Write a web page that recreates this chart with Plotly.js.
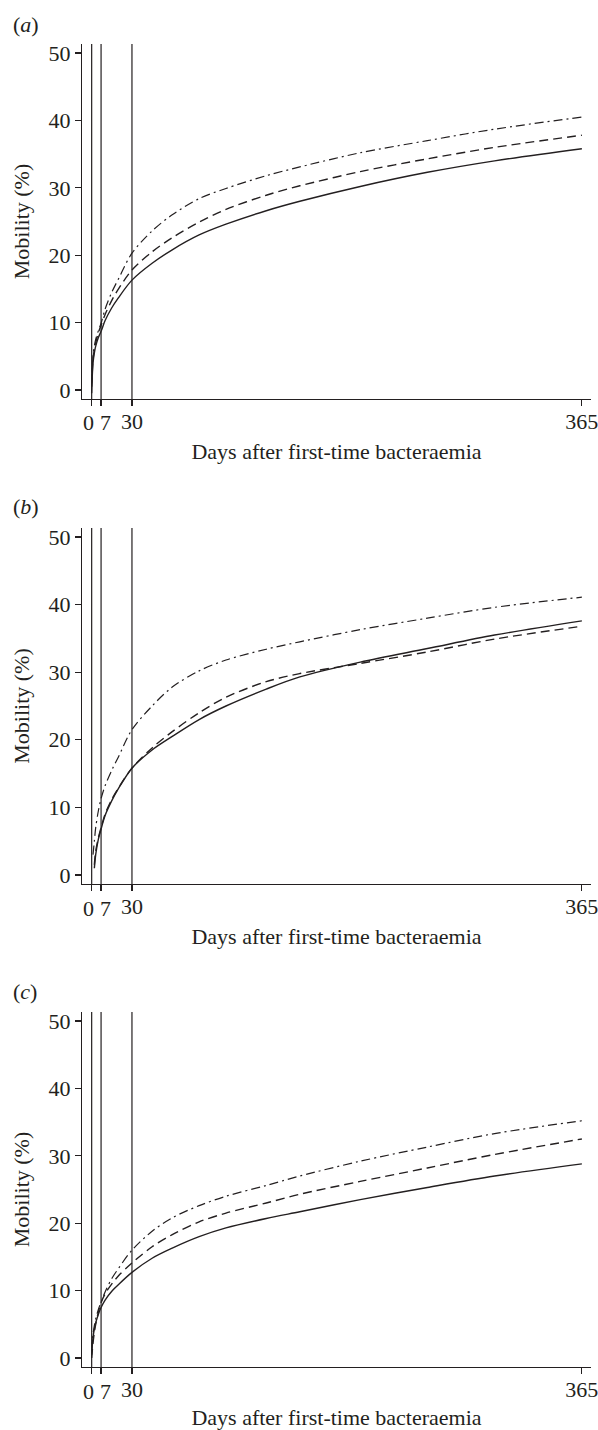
<!DOCTYPE html>
<html>
<head>
<meta charset="utf-8">
<script src="https://cdn.plot.ly/plotly-3.0.1.min.js"></script>
<style>
html, body { margin: 0; padding: 0; background: #fff; }
#chart { width: 598px; height: 1430px; }
</style>
</head>
<body>
<div id="chart"></div>
<script>
// ---- data ----
const panelLabels = ["a", "b", "c"];
const xTickVals = [0, 7, 30, 365];
const xTickText = ["0", "7", "30", "365"];
const yTickVals = [0, 10, 20, 30, 40, 50];
const refLineDays = [0, 7, 30];
const xTitle = "Days after first-time bacteraemia";
const yTitle = "Mobility (%)";

// panel (a)
const daysA = [0, 1, 2, 3, 5, 7, 10, 15, 20, 30, 45, 60, 80, 100, 130, 155, 200, 250, 300, 365];
const aSolid   = [-0.5, 4.0, 5.5, 6.5, 7.8, 8.7, 10.3, 12.2, 13.7, 16.3, 18.8, 20.8, 23.0, 24.6, 26.6, 28.0, 30.2, 32.3, 34.0, 35.8];
const aDashed  = [0.5, 4.5, 6.0, 7.0, 8.5, 9.6, 11.2, 13.3, 15.0, 17.8, 20.5, 22.6, 24.9, 26.8, 28.9, 30.3, 32.4, 34.3, 36.0, 37.8];
const aDashDot = [1.0, 5.0, 6.5, 7.5, 8.8, 9.9, 12.0, 14.5, 16.5, 20.3, 23.6, 26.0, 28.4, 29.9, 31.8, 33.1, 35.2, 37.0, 38.7, 40.5];

// panel (b)
const daysB = [2, 3, 5, 7, 10, 15, 20, 30, 45, 60, 80, 100, 130, 155, 200, 250, 300, 365];
const bSolid   = [1.0, 3.0, 5.3, 6.8, 8.8, 11.0, 12.8, 15.8, 18.5, 20.5, 23.0, 25.0, 27.5, 29.3, 31.5, 33.5, 35.5, 37.6];
const bDashed  = [1.5, 3.5, 5.5, 7.0, 9.0, 11.2, 12.9, 15.8, 18.8, 21.2, 24.0, 26.3, 28.6, 29.8, 31.3, 33.0, 34.9, 36.8];
const daysB2 = [1, 2, 3, 5, 7, 10, 15, 20, 30, 45, 60, 80, 100, 130, 155, 200, 250, 300, 365];
const bDashDot = [3.0, 5.0, 7.0, 9.5, 11.3, 13.2, 15.5, 17.5, 21.5, 25.0, 27.8, 30.2, 31.8, 33.4, 34.5, 36.3, 38.0, 39.6, 41.1];

// panel (c)
const daysC = [0, 1, 2, 3, 5, 7, 10, 15, 20, 30, 45, 60, 80, 100, 130, 155, 200, 250, 300, 365];
const cSolid   = [0.5, 3.0, 4.3, 5.2, 6.5, 7.5, 8.6, 9.9, 10.9, 12.7, 14.8, 16.3, 18.0, 19.3, 20.7, 21.7, 23.5, 25.3, 27.0, 28.8];
const cDashed  = [0.0, 2.2, 3.8, 5.0, 6.8, 8.2, 9.5, 11.0, 12.2, 14.1, 16.5, 18.3, 20.2, 21.5, 23.0, 24.3, 26.2, 28.2, 30.2, 32.5];
const cDashDot = [1.0, 3.5, 4.8, 5.8, 7.2, 8.3, 9.8, 11.8, 13.3, 16.0, 18.8, 20.8, 22.6, 24.0, 25.6, 27.0, 29.2, 31.3, 33.3, 35.2];

// ---- styling ----
const W = 598, H = 1430;
const ink = "#231f20";
const font = { family: "Liberation Serif, Times New Roman, serif", size: 22, color: ink };
const lineStyles = [
  { dash: "solid", width: 1.4 },
  { dash: "9px,5px", width: 1.4 },
  { dash: "9px,4px,2px,4px", width: 1.2 }
];

const panels = [
  { top: 44,   bottom: 399,  labelY: 24,  days: [daysA, daysA, daysA],   series: [aSolid, aDashed, aDashDot] },
  { top: 528,  bottom: 884,  labelY: 507, days: [daysB, daysB, daysB2],  series: [bSolid, bDashed, bDashDot] },
  { top: 1012, bottom: 1367, labelY: 992, days: [daysC, daysC, daysC],   series: [cSolid, cDashed, cDashDot] }
];

// the crowded 0 and 7 labels are nudged apart, as in the original figure
const crowdedTickShift = { 0: -3.5, 7: 4.5 };

const plotLeft = 82, plotRight = 591;
const traces = [];
const shapes = [];
const annotations = [];
const layout = {
  width: W, height: H,
  margin: { l: 0, r: 0, t: 0, b: 0 },
  paper_bgcolor: "#fff", plot_bgcolor: "#fff",
  showlegend: false,
  font: font
};

panels.forEach((p, i) => {
  const n = i === 0 ? "" : String(i + 1);
  const xa = "x" + n, ya = "y" + n;
  p.series.forEach((vals, k) => {
    traces.push({
      x: p.days[k], y: vals, xaxis: xa, yaxis: ya,
      type: "scatter", mode: "lines",
      line: { color: ink, width: lineStyles[k].width, dash: lineStyles[k].dash, shape: "spline", smoothing: 0.9 },
      hoverinfo: "skip"
    });
  });
  const yDomain = [1 - p.bottom / H, 1 - p.top / H];
  layout["xaxis" + n] = {
    domain: [plotLeft / W, plotRight / W],
    anchor: ya,
    range: [-7.2, 371.8],
    tickmode: "array", tickvals: xTickVals,
    ticktext: xTickVals.map((v, j) => (v in crowdedTickShift) ? "" : xTickText[j]),
    tickangle: 0,
    ticklabeloverflow: "allow",
    ticklabelstandoff: -4,
    ticks: "outside", ticklen: 6, tickwidth: 1.2, tickcolor: ink,
    showline: true, linecolor: ink, linewidth: 1.2,
    showgrid: false, zeroline: false,
    tickfont: font,
    title: { text: xTitle, font: font, standoff: 11 },
    fixedrange: true
  };
  layout["yaxis" + n] = {
    domain: yDomain,
    anchor: xa,
    range: [-1.34, 51.34],
    tickmode: "array", tickvals: yTickVals,
    ticklabeloverflow: "allow",
    ticks: "outside", ticklen: 6, tickwidth: 1.2, tickcolor: ink,
    showline: true, linecolor: ink, linewidth: 1.2,
    showgrid: false, zeroline: false,
    tickfont: font,
    title: { text: yTitle, font: font, standoff: 12 },
    fixedrange: true
  };
  refLineDays.forEach(d => {
    shapes.push({
      type: "line", xref: xa, yref: ya + " domain",
      x0: d, x1: d, y0: 0, y1: 1,
      line: { color: ink, width: 1.2 }
    });
  });
  xTickVals.forEach((v, j) => {
    if (!(v in crowdedTickShift)) return;
    annotations.push({
      text: xTickText[j],
      xref: xa, yref: ya + " domain",
      x: v, y: 0, xanchor: "center", yanchor: "middle",
      xshift: crowdedTickShift[v], yshift: -24,
      showarrow: false, font: font, borderpad: 0
    });
  });
  annotations.push({
    text: "(<i>" + panelLabels[i] + "</i>)",
    xref: "paper", yref: "paper",
    x: 11 / W, y: 1 - p.labelY / H,
    xanchor: "left", yanchor: "middle",
    showarrow: false, font: font
  });
});

layout.shapes = shapes;
layout.annotations = annotations;

Plotly.newPlot("chart", traces, layout, { displayModeBar: false, staticPlot: true });
</script>
</body>
</html>
